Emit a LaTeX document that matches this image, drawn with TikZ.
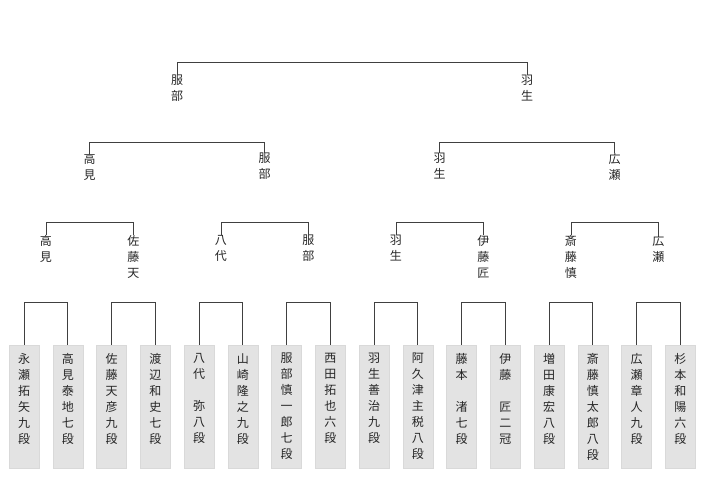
\documentclass[tikz,border=0pt]{standalone}
\usepackage{fontspec}
\setmainfont{Noto Sans CJK JP}
\usepackage{xcolor}
\usetikzlibrary{positioning}

\begin{document}
\begin{tikzpicture}[
    x=1pt, y=1pt,
    player/.style={rectangle, draw=black!15, fill=black!11, minimum width=30pt, minimum height=123pt, inner sep=0pt},
    vname/.style={align=center, inner sep=0pt, font=\fontsize{12}{16}\selectfont, text=black!85},
    line/.style={draw=black!75, thick}
]
\useasboundingbox (0,0) rectangle (720,484);

% first round players
\foreach \i/\name in {
  1/永\\瀬\\拓\\矢\\九\\段, 2/高\\見\\泰\\地\\七\\段,
  3/佐\\藤\\天\\彦\\九\\段, 4/渡\\辺\\和\\史\\七\\段,
  5/八\\代\\　\\弥\\八\\段, 6/山\\崎\\隆\\之\\九\\段,
  7/服\\部\\慎\\一\\郎\\七\\段, 8/西\\田\\拓\\也\\六\\段,
  9/羽\\生\\善\\治\\九\\段, 10/阿\\久\\津\\主\\税\\八\\段,
  11/藤\\本\\　\\渚\\七\\段, 12/伊\\藤\\　\\匠\\二\\冠,
  13/増\\田\\康\\宏\\八\\段, 14/斎\\藤\\慎\\太\\郎\\八\\段,
  15/広\\瀬\\章\\人\\九\\段, 16/杉\\本\\和\\陽\\六\\段} {
  \node[player, anchor=north] (b\i) at ({24+43.75*(\i-1)},139) {};
  \node[vname, anchor=north] (t\i) at ([yshift=-8pt]b\i.north) {\name};
}

% second round
\foreach \i/\name in {1/高\\見, 2/佐\\藤\\天, 3/八\\代, 4/服\\部,
  5/羽\\生, 6/伊\\藤\\匠, 7/斎\\藤\\慎, 8/広\\瀬} {
  \node[vname, anchor=north] (r\i) at ({45.9+87.5*(\i-1)},249) {\name};
}

% third round
\foreach \i/\name in {1/高\\見, 2/服\\部, 3/羽\\生, 4/広\\瀬} {
  \node[vname, anchor=north] (s\i) at ({89.6+175*(\i-1)},331) {\name};
}

% final
\node[vname, anchor=north] (f1) at (177.1,409) {服\\部};
\node[vname, anchor=north] (f2) at (527.1,409) {羽\\生};

% brackets
\foreach \a/\b in {1/2, 3/4, 5/6, 7/8, 9/10, 11/12, 13/14, 15/16}
  \draw[line] (b\a.north) -- ++(0,43) -| (b\b.north);
\foreach \a/\b in {1/2, 3/4, 5/6, 7/8}
  \draw[line] (r\a.north) -- ++(0,13) -| (r\b.north);
\foreach \a/\b in {1/2, 3/4}
  \draw[line] (s\a.north) -- ++(0,11) -| (s\b.north);
\draw[line] (f1.north) -- ++(0,13) -| (f2.north);

\end{tikzpicture}
\end{document}
